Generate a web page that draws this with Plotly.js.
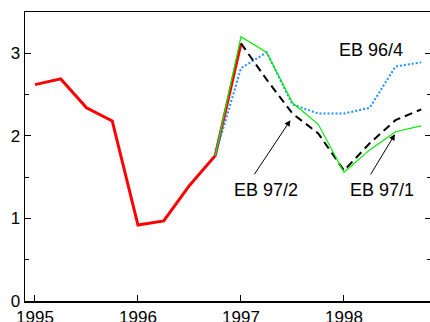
<!DOCTYPE html>
<html>
<head>
<meta charset="utf-8">
<script src="https://cdn.plot.ly/plotly-3.0.1.min.js"></script>
<style>
html, body { margin: 0; padding: 0; overflow: hidden; background: #fff; }
#chart { width: 432px; height: 322px; }
</style>
</head>
<body>
<div id="chart"></div>
<script>
// Quarterly time points (decimal years)
const histX = [1995.0, 1995.25, 1995.5, 1995.75, 1996.0, 1996.25, 1996.5, 1996.75, 1997.0];
const histY = [2.62, 2.69, 2.34, 2.18, 0.92, 0.97, 1.40, 1.76, 3.12];

const fcX = [1996.75, 1997.0, 1997.25, 1997.5, 1997.75, 1998.0, 1998.25, 1998.5, 1998.75];
const eb971 = [1.76, 3.20, 3.01, 2.40, 2.14, 1.56, 1.83, 2.05, 2.12];
const eb964 = [1.76, 2.82, 3.01, 2.38, 2.27, 2.27, 2.34, 2.84, 2.89];

const fc2X = [1997.0, 1997.25, 1997.5, 1997.75, 1998.0, 1998.25, 1998.5, 1998.75];
const eb972 = [3.12, 2.68, 2.27, 2.03, 1.58, 1.91, 2.19, 2.32];

const xTicks = [1995, 1996, 1997, 1998];
const xTickText = ['1995', '1996', '1997', '1998'];
const yTicks = [0, 1, 2, 3];
const yTickText = ['0', '1', '2', '3'];

const FONT = '"Liberation Sans", Arial, Helvetica, sans-serif';

const traces = [
  { x: histX, y: histY, mode: 'lines', line: { color: '#ff0000', width: 3 }, name: 'Actual' },
  { x: fcX, y: eb964, mode: 'lines', line: { color: '#1e90ff', width: 2, dash: '2px,2px' }, name: 'EB 96/4' },
  { x: fc2X, y: eb972, mode: 'lines', line: { color: '#000000', width: 2, dash: '8px,5px' }, name: 'EB 97/2' },
  { x: fcX, y: eb971, mode: 'lines', line: { color: '#00ee00', width: 1.2 }, name: 'EB 97/1' }
];

const layout = {
  width: 432, height: 322,
  margin: { l: 25, r: 1, t: 12, b: 21, pad: 0 },
  paper_bgcolor: '#fff', plot_bgcolor: '#fff',
  showlegend: false,
  font: { family: FONT, size: 17, color: '#000' },
  xaxis: {
    range: [1994.903, 1998.845],
    tickvals: xTicks, ticktext: xTickText,
    ticks: 'inside', ticklen: 6, tickwidth: 1, tickcolor: '#000',
    showline: true, linecolor: '#000', linewidth: 1.5, mirror: true,
    showgrid: false, zeroline: false,
    tickfont: { family: FONT, size: 17, color: '#000' }
  },
  yaxis: {
    range: [0, 3.5],
    tickvals: yTicks, ticktext: yTickText,
    ticks: 'inside', ticklen: 6, tickwidth: 1, tickcolor: '#000',
    minor: { dtick: 0.5, ticks: 'inside', ticklen: 4, tickwidth: 1, tickcolor: '#000' },
    showline: true, linecolor: '#000', linewidth: 1.5, mirror: 'ticks',
    showgrid: false, zeroline: false,
    tickfont: { family: FONT, size: 17, color: '#000' }
  },
  annotations: [
    { x: 1998.26, y: 3.04, xref: 'x', yref: 'y', text: 'EB 96/4', showarrow: false,
      font: { family: FONT, size: 18, color: '#000' } },
    { x: 1997.24, y: 1.345, xref: 'x', yref: 'y', text: 'EB 97/2', showarrow: false,
      font: { family: FONT, size: 18, color: '#000' } },
    { x: 1998.37, y: 1.345, xref: 'x', yref: 'y', text: 'EB 97/1', showarrow: false,
      font: { family: FONT, size: 18, color: '#000' } },
    { x: 1997.48, y: 2.19, xref: 'x', yref: 'y', ax: 1997.12, ay: 1.515, axref: 'x', ayref: 'y',
      text: '', showarrow: true, arrowhead: 2, arrowsize: 1.2, arrowwidth: 1, arrowcolor: '#000' },
    { x: 1998.495, y: 2.02, xref: 'x', yref: 'y', ax: 1998.25, ay: 1.515, axref: 'x', ayref: 'y',
      text: '', showarrow: true, arrowhead: 2, arrowsize: 1.2, arrowwidth: 1, arrowcolor: '#000' }
  ]
};

Plotly.newPlot('chart', traces, layout, { staticPlot: true, displayModeBar: false });
</script>
</body>
</html>
